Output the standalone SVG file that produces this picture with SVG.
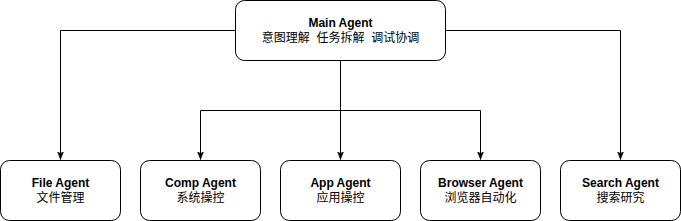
<svg xmlns="http://www.w3.org/2000/svg" width="681" height="221" viewBox="0 0 681 221">
<style>
.box{fill:#ffffff;stroke:#000000;stroke-width:1}
.t{font-family:"Liberation Sans",Arial,"Noto Sans CJK SC",sans-serif;font-size:12px;fill:#000000;text-anchor:middle}
.b{font-weight:bold}
.c{font-family:"Liberation Sans",Arial,"Noto Sans CJK SC",sans-serif}
.e{fill:none;stroke:#000000;stroke-width:1}
</style>
<defs>
<marker id="arr" viewBox="0 0 10 10" refX="10" refY="5" markerWidth="8" markerHeight="8" markerUnits="userSpaceOnUse" orient="auto">
<path d="M0,1 L10,5 L0,9 L2.5,5 Z" fill="#000000" stroke="#000000" stroke-width="0.5"/>
</marker>
</defs>
<rect width="681" height="221" fill="#ffffff"/>
<g id="connectors">
<path class="e" d="M235.5,30.5 H60.5 V159.5" marker-end="url(#arr)"/>
<path class="e" d="M445.5,30.5 H620.5 V159.5" marker-end="url(#arr)"/>
<path class="e" d="M340.5,60.5 V159.5" marker-end="url(#arr)"/>
<path class="e" d="M340.5,60.5 V110.5 H200.5 V159.5" marker-end="url(#arr)"/>
<path class="e" d="M340.5,60.5 V110.5 H480.5 V159.5" marker-end="url(#arr)"/>
</g>
<g id="main-agent">
<rect class="box" x="235.5" y="0.5" width="210" height="60" rx="9" ry="9"/>
<text class="t b" x="340.5" y="27">Main Agent</text>
<text class="t" x="340.5" y="41.5" xml:space="preserve">意图理解  任务拆解  调试协调</text>
</g>
<g id="file-agent">
<rect class="box" x="0.5" y="160.5" width="120" height="60" rx="9" ry="9"/>
<text class="t b" x="60.5" y="187">File Agent</text>
<text class="t" x="60.5" y="201.5">文件管理</text>
</g>
<g id="comp-agent">
<rect class="box" x="140.5" y="160.5" width="120" height="60" rx="9" ry="9"/>
<text class="t b" x="200.5" y="187">Comp Agent</text>
<text class="t" x="200.5" y="201.5">系统操控</text>
</g>
<g id="app-agent">
<rect class="box" x="280.5" y="160.5" width="120" height="60" rx="9" ry="9"/>
<text class="t b" x="340.5" y="187">App Agent</text>
<text class="t" x="340.5" y="201.5">应用操控</text>
</g>
<g id="browser-agent">
<rect class="box" x="420.5" y="160.5" width="120" height="60" rx="9" ry="9"/>
<text class="t b" x="480.5" y="187">Browser Agent</text>
<text class="t" x="480.5" y="201.5">浏览器自动化</text>
</g>
<g id="search-agent">
<rect class="box" x="560.5" y="160.5" width="120" height="60" rx="9" ry="9"/>
<text class="t b" x="620.5" y="187">Search Agent</text>
<text class="t" x="620.5" y="201.5">搜索研究</text>
</g>
</svg>
